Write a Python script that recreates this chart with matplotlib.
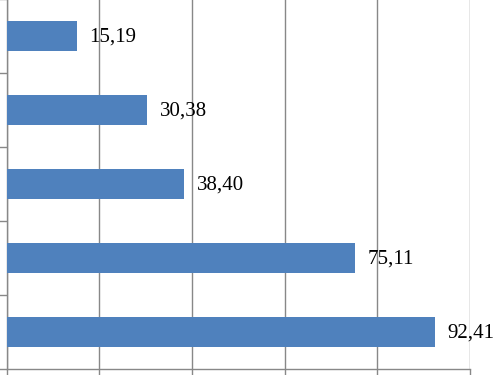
import matplotlib.pyplot as plt
import numpy as np

values = [92.41, 75.11, 38.40, 30.38, 15.19]
labels = ["92,41", "75,11", "38,40", "30,38", "15,19"]
xticks = [0, 20, 40, 60, 80, 100]


def main() -> None:
    fig = plt.figure(figsize=(4.93, 3.75), dpi=100)
    ax = fig.add_axes([6.5 / 493, 6 / 375, 463.5 / 493, 370 / 375])
    pos = np.arange(len(values))
    ax.barh(pos, values, height=0.4, color="#4F81BD", zorder=3)
    for p, v, t in zip(pos, values, labels):
        ax.text(v + 2.7, p - 0.02, t, va="center", ha="left",
                fontsize=15, family="Liberation Serif", zorder=4)
    ax.set_xlim(0, 100)
    ax.set_ylim(-0.5, len(values) - 0.5)
    ax.set_xticks(xticks)
    ax.set_yticks(np.arange(len(values) + 1) - 0.5)
    ax.set_xticklabels([])
    ax.set_yticklabels([])
    ax.tick_params(axis="both", direction="out", length=6, width=1, color="#888888")
    ax.grid(axis="x", color="#888888", linewidth=1, zorder=0)
    for s in ["top", "right"]:
        ax.spines[s].set_visible(False)
    for s in ["left", "bottom"]:
        ax.spines[s].set_color("#888888")
        ax.spines[s].set_linewidth(1)
    fig.savefig("out.png", dpi=100)
    plt.close(fig)


if __name__ == "__main__":
    main()
